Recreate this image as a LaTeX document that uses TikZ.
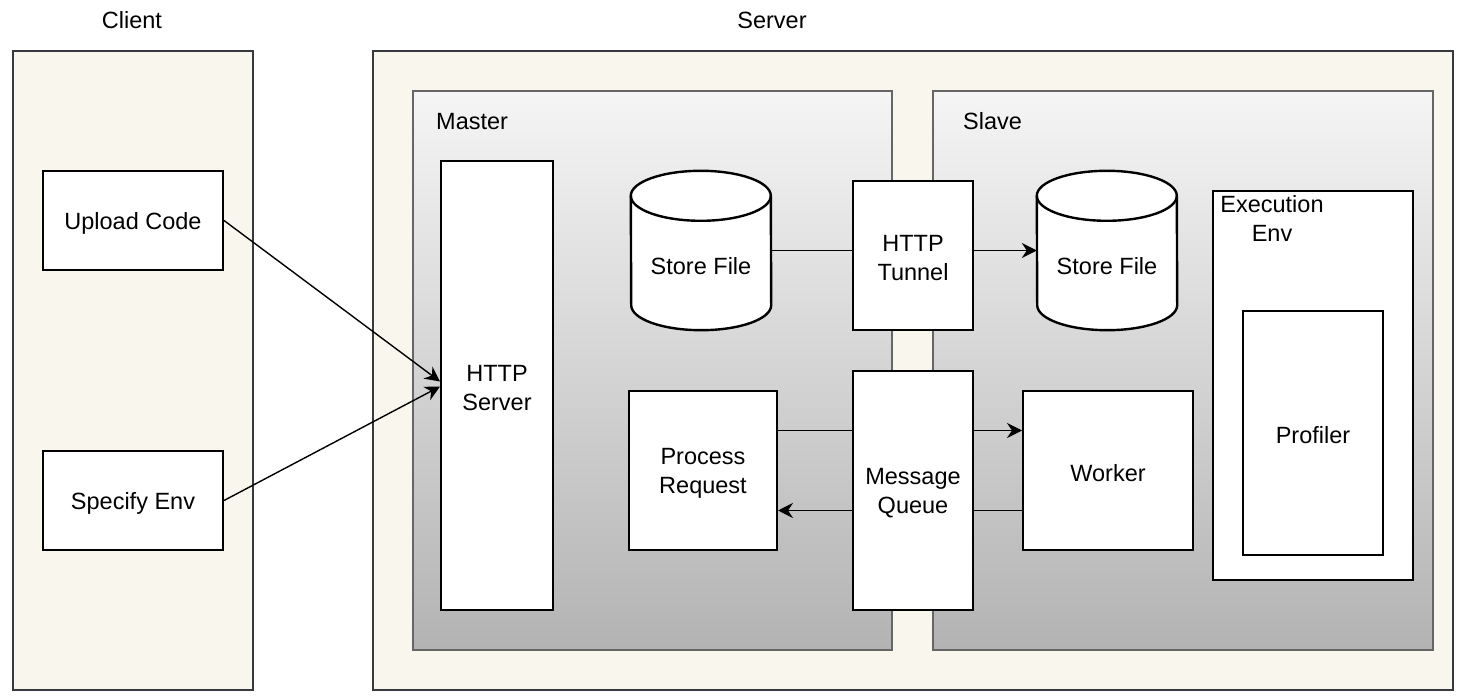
\documentclass[tikz,border=0pt]{standalone}
\usepackage{fontspec}
\setmainfont{Liberation Sans}
\usetikzlibrary{arrows.meta,calc}
\definecolor{cream}{HTML}{F9F7ED}
\definecolor{creamline}{HTML}{36393D}
\definecolor{grayline}{HTML}{666666}
\definecolor{gtop}{HTML}{F5F5F5}
\definecolor{gbot}{HTML}{B3B3B3}
\begin{document}
\begin{tikzpicture}[x=1pt,y=-1pt,
  font=\fontsize{23.5}{29}\selectfont,
  outer/.style={draw=creamline,fill=cream,line width=1.3pt,inner sep=0pt},
  group/.style={draw=grayline,top color=gtop,bottom color=gbot,line width=1.5pt,inner sep=0pt},
  blk/.style={draw=black,fill=white,line width=2pt,inner sep=0pt,align=center},
  txt/.style={label={[lbl,yshift=-2.5pt]center:{#1}}},
  cylbox/.style={inner sep=0pt},
  cyl/.style={draw=black,fill=white,line width=2.4pt},
  lbl/.style={inner sep=0pt,align=center},
  conn/.style={line width=1.4pt,draw=black},
  arr/.style={conn,-{Stealth[length=15pt,width=15pt,inset=5pt]}}
]
\useasboundingbox (0,0) rectangle (1460,700);
% containers
\node[outer,minimum width=240,minimum height=639] (client) at (133,370.5) {};
\node[outer,minimum width=1080,minimum height=639] (server) at (913,370.5) {};
\node[lbl] (clientlbl) at (132,20) {Client};
\node[lbl] (serverlbl) at (772,20) {Server};
\node[group,minimum width=479,minimum height=559] (master) at (652.5,370.5) {};
\node[group,minimum width=500,minimum height=559] (slave) at (1183,370.5) {};
\node[lbl,anchor=west] (masterlbl) at (436,121.5) {Master};
\node[lbl,anchor=west] (slavelbl) at (963,121.5) {Slave};
% client boxes
\node[blk,minimum width=180,minimum height=99,txt={Upload Code}] (upload) at (133,220.5) {};
\node[blk,minimum width=180,minimum height=99,txt={Specify Env}] (specify) at (133,500.5) {};
% master
\node[blk,minimum width=112,minimum height=449,txt={HTTP\\Server}] (hs) at (497,385.5) {};
\node[blk,minimum width=148,minimum height=159,txt={Process\\Request}] (pr) at (703,470.5) {};
% cylinders
\node[cylbox,minimum width=140,minimum height=159] (sfm) at (701,250.5) {};
\node[cylbox,minimum width=140,minimum height=159] (sfs) at (1107,250.5) {};
\foreach \c in {sfm,sfs}{
  \path[cyl] ($(\c.north west)+(0,25)$) arc[start angle=180,end angle=0,x radius=70pt,y radius=25pt]
     -- ($(\c.south east)+(0,-25)$) arc[start angle=0,end angle=-180,x radius=70pt,y radius=25pt] -- cycle;
  \draw[line width=2.4pt] ($(\c.north west)+(0,25)$) arc[start angle=180,end angle=360,x radius=70pt,y radius=25pt];
}
\node[lbl] (sfmtxt) at (701,266) {Store File};
\node[lbl] (sfstxt) at (1107,266) {Store File};
% tunnel and queue
\node[blk,minimum width=120,minimum height=149,txt={HTTP\\Tunnel}] (tun) at (913,255.5) {};
\node[blk,minimum width=120,minimum height=239,txt={Message\\Queue}] (mq) at (913,490.5) {};
% slave
\node[blk,minimum width=170,minimum height=159,txt={Worker}] (worker) at (1108,470.5) {};
\node[blk,minimum width=200,minimum height=389] (exec) at (1313,385.5) {};
\node[lbl,anchor=north] (execlbl) at (1272,195) {Execution\\Env};
\node[blk,minimum width=140,minimum height=244,txt={Profiler}] (prof) at (1313,433) {};
% connectors
\draw[arr] (upload.east) -- ($(hs.west)+(0,-4)$);
\draw[arr] (specify.east) -- ($(hs.west)+(0,1)$);
\draw[conn] (sfm.east) -- (sfm.east -| tun.west);
\draw[arr] (tun.east |- sfs.west) -- (sfs.west);
\draw[conn] ($(pr.east)+(0,-40)$) -- ($(pr.east -| mq.west)+(0,-40)$);
\draw[arr] ($(mq.east |- worker.west)+(0,-40)$) -- ($(worker.west)+(0,-40)$);
\draw[conn] ($(worker.west)+(0,40)$) -- ($(worker.west -| mq.east)+(0,40)$);
\draw[arr] ($(mq.west |- pr.east)+(0,40)$) -- ($(pr.east)+(0,40)$);
\end{tikzpicture}
\end{document}
